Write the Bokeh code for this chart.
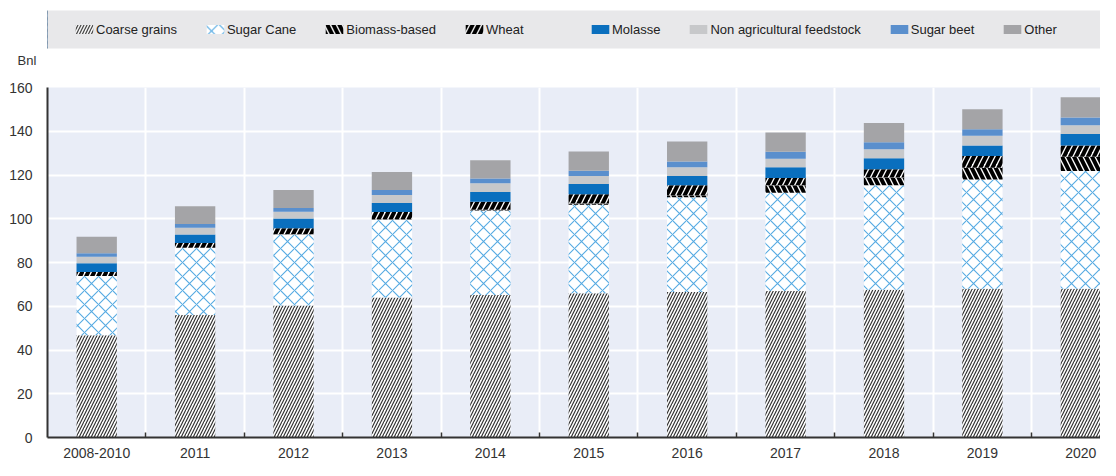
from bokeh.plotting import figure
from bokeh.models import Range1d, FixedTicker, Legend, LegendItem, ColumnDataSource, Title
from bokeh.transform import stack
from bokeh.layouts import column
from bokeh.embed import file_html
from bokeh.resources import INLINE

categories = ["2008-2010", "2011", "2012", "2013", "2014", "2015", "2016", "2017", "2018", "2019", "2020"]
coarse_grains = [46.8, 56.0, 60.4, 64.0, 65.2, 65.9, 66.5, 67.0, 67.5, 68.0, 68.0]
sugar_cane = [27.0, 30.7, 32.4, 35.6, 38.6, 40.5, 43.3, 44.9, 47.8, 49.9, 53.8]
biomass_based = [0.0, 0.0, 0.1, 0.2, 0.3, 0.6, 1.0, 3.4, 3.6, 5.4, 6.6]
wheat = [1.9, 2.2, 2.8, 3.3, 3.7, 4.2, 4.5, 3.3, 3.7, 5.4, 5.1]
molasse = [4.0, 3.9, 4.4, 4.1, 4.4, 4.7, 4.3, 5.0, 5.1, 4.8, 5.2]
non_agricultural = [2.9, 3.1, 3.1, 3.7, 4.0, 3.6, 4.0, 3.8, 4.1, 4.5, 4.1]
sugar_beet = [1.6, 1.7, 1.7, 2.2, 2.2, 2.5, 2.6, 3.2, 3.2, 2.9, 3.5]
other = [7.6, 8.1, 8.3, 8.3, 8.4, 8.8, 9.1, 8.8, 8.8, 9.2, 9.2]

series_names = ["Coarse grains", "Sugar Cane", "Biomass-based", "Wheat", "Molasse",
                "Non agricultural feedstock", "Sugar beet", "Other"]
y_ticks = [0, 20, 40, 60, 80, 100, 120, 140, 160]
unit_label = "Bnl"

FONT = "Liberation Sans"

xs = list(range(len(categories)))
cols = ["s%d" % i for i in range(len(series_names))]
data = dict(x=xs)
for c, vals in zip(cols, [coarse_grains, sugar_cane, biomass_based, wheat, molasse,
                          non_agricultural, sugar_beet, other]):
    data[c] = vals
source = ColumnDataSource(data)

styles = [
    dict(fill_color="white", hatch_pattern="/", hatch_color="#333333", hatch_weight=1.2, hatch_scale=6),
    dict(fill_color="white", hatch_pattern="x", hatch_color="#55aae2", hatch_weight=1.1, hatch_scale=14),
    dict(fill_color="white", hatch_pattern="\\", hatch_color="#000000", hatch_weight=4, hatch_scale=12),
    dict(fill_color="white", hatch_pattern="/", hatch_color="#000000", hatch_weight=4, hatch_scale=12),
    dict(fill_color="#0a6fbe"),
    dict(fill_color="#c7c8ca"),
    dict(fill_color="#5a8fcd"),
    dict(fill_color="#a4a4a7"),
]

# ---- legend band + unit label (separate small figure) ----
lf = figure(width=1100, height=80, x_range=Range1d(0, 1), y_range=Range1d(0, 1),
            x_axis_type=None, y_axis_type=None, output_backend="svg", toolbar_location=None,
            min_border_left=47, min_border_right=0, min_border_top=10, min_border_bottom=32,
            background_fill_color="#e8e8ea", border_fill_color="white", outline_line_color=None)
# legend-only renderers, kept outside the visible range
dummies = [lf.vbar(x=[-5], top=[1], width=0.4, line_color=None, **st) for st in styles]

common = dict(orientation="horizontal", location="left",
              label_text_font=FONT, label_text_font_size="13px", label_text_color="#222222",
              glyph_width=22, glyph_height=11, label_standoff=1, spacing=27,
              padding=9, background_fill_alpha=0, border_line_color=None)
items = [LegendItem(label=n, renderers=[r]) for n, r in zip(series_names, dummies)]
lf.add_layout(Legend(items=items[:4], margin=26, **common))
lf.add_layout(Legend(items=items[4:], margin=542, **common))
lf.add_layout(Title(text=unit_label, align="left", offset=-30, standoff=4,
                    text_font=FONT, text_font_size="13px", text_font_style="normal",
                    text_color="#333333"), "below")

# ---- main chart ----
p = figure(width=1100, height=380, x_range=Range1d(-0.5, 10.2),
           y_range=Range1d(0, 160), output_backend="svg", toolbar_location=None,
           min_border_left=47, min_border_right=0, min_border_top=7, min_border_bottom=20,
           background_fill_color="#e9edf7", border_fill_color="white", outline_line_color=None)

for i, (c, st) in enumerate(zip(cols, styles)):
    bottom = stack(*cols[:i]) if i > 0 else 0
    p.vbar(x="x", bottom=bottom, top=stack(*cols[:i + 1]), width=0.41,
           source=source, line_color=None, **st)

# grid
p.ygrid.ticker = FixedTicker(ticks=y_ticks)
p.ygrid.grid_line_color = "white"
p.ygrid.grid_line_width = 2
boundaries = [i + 0.5 for i in xs[:-1]]
p.xgrid.ticker = FixedTicker(ticks=boundaries)
p.xgrid.grid_line_color = "white"
p.xgrid.grid_line_width = 2

# axes
p.xaxis.ticker = FixedTicker(ticks=xs, minor_ticks=boundaries)
p.xaxis.major_label_overrides = {x: c for x, c in zip(xs, categories)}
p.xaxis.major_tick_line_color = None
p.xaxis.minor_tick_in = 5
p.xaxis.minor_tick_out = 0
p.xaxis.minor_tick_line_color = "#333333"
p.xaxis.minor_tick_line_width = 1.5
p.xaxis.major_label_standoff = 4
p.yaxis.ticker = FixedTicker(ticks=y_ticks)
p.yaxis.major_tick_in = 0
p.yaxis.major_tick_out = 0
p.yaxis.minor_tick_line_color = None
p.yaxis.major_label_standoff = 15
for ax in (p.xaxis, p.yaxis):
    ax.axis_line_color = "#333333"
    ax.axis_line_width = 2
    ax.major_label_text_font = FONT
    ax.major_label_text_font_size = "14px"
    ax.major_label_text_color = "#333333"

layout = column(lf, p, spacing=0)
open("out.html", "w").write(file_html(layout, INLINE))
